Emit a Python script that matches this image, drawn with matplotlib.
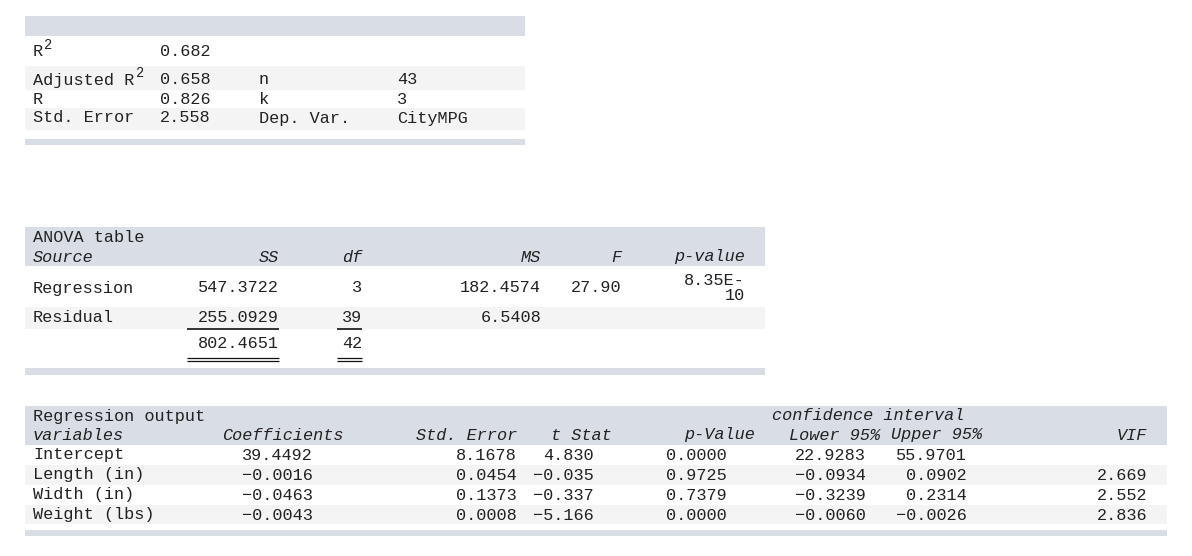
import matplotlib
matplotlib.use("Agg")
import matplotlib.pyplot as plt
from matplotlib.patches import Rectangle

# ---- data ----
stat_labels = ["R", "Adjusted R", "R", "Std. Error"]
stat_sup = ["2", "2", "", ""]
stat_values = ["0.682", "0.658", "0.826", "2.558"]
stat2_labels = ["", "n", "k", "Dep. Var."]
stat2_values = ["", "43", "3", "CityMPG"]

anova_sources = ["Regression", "Residual", ""]
anova_ss = ["547.3722", "255.0929", "802.4651"]
anova_df = ["3", "39", "42"]
anova_ms = ["182.4574", "6.5408", ""]
anova_f = ["27.90", "", ""]
anova_p = ["8.35E-\n10", "", ""]

reg_vars = ["Intercept", "Length (in)", "Width (in)", "Weight (lbs)"]
reg_coef = ["39.4492", "\u22120.0016", "\u22120.0463", "\u22120.0043"]
reg_se = ["8.1678", "0.0454", "0.1373", "0.0008"]
reg_t = ["4.830", "\u22120.035", "\u22120.337", "\u22125.166"]
reg_p = ["0.0000", "0.9725", "0.7379", "0.0000"]
reg_lo = ["22.9283", "\u22120.0934", "\u22120.3239", "\u22120.0060"]
reg_hi = ["55.9701", "0.0902", "0.2314", "\u22120.0026"]
reg_vif = ["", "2.669", "2.552", "2.836"]

W, H = 1192, 556
fig = plt.figure(figsize=(W / 100, H / 100), dpi=100)
ax = fig.add_axes([0, 0, 1, 1])
ax.set_xlim(0, W)
ax.set_ylim(H, 0)
ax.axis("off")

BAND = "#d9dde6"
STRIPE = "#f4f4f4"
TC = "#222222"
FS = 12.2
FAM = "Liberation Mono"
CW = FS * 100 / 72 * 0.6  # char width in px

def rect(x0, x1, y0, y1, c):
    ax.add_patch(Rectangle((x0, y0), x1 - x0, y1 - y0, color=c, lw=0))

def t(x, y, s, ha="left", style="normal", va="center", fs=FS):
    ax.text(x, y, s, ha=ha, va=va, fontsize=fs, family=FAM, color=TC,
            style=style, linespacing=1.0)

def hline(x0, x1, y, lw=1.2):
    ax.plot([x0, x1], [y, y], color="#111111", lw=lw, solid_capstyle="butt")

# ---- table 1 ----
L = 25
rect(L, 525, 16, 36, BAND)
rows1 = [52, 80, 99, 118]
rect(L, 525, 66, 90, STRIPE)
rect(L, 525, 108, 130, STRIPE)
for i, y in enumerate(rows1):
    t(33, y, stat_labels[i])
    if stat_sup[i]:
        t(33 + len(stat_labels[i]) * CW + 1, y - 7, stat_sup[i], fs=FS * 0.8)
    t(160, y, stat_values[i])
    t(259, y, stat2_labels[i])
    t(397, y, stat2_values[i])
rect(L, 525, 139, 145, BAND)

# ---- table 2 ----
R2 = 765
rect(L, R2, 227, 266, BAND)
t(33, 238, "ANOVA table")
hdr_y = 257
t(33, hdr_y, "Source", style="italic")
cols2 = [279, 362, 541, 621, 745]
for x, h in zip(cols2, ["SS", "df", "MS", "F", "p-value"]):
    t(x, hdr_y, h, ha="right", style="italic")
rows2 = [288, 318, 343]
rect(L, R2, 307, 329, STRIPE)
for i, y in enumerate(rows2):
    t(33, y, anova_sources[i])
    t(cols2[0], y, anova_ss[i], ha="right")
    t(cols2[1], y, anova_df[i], ha="right")
    t(cols2[2], y, anova_ms[i], ha="right")
    t(cols2[3], y, anova_f[i], ha="right")
    t(cols2[4], y, anova_p[i], ha="right")
hline(187, 279, 329)
hline(337, 362, 329)
for yy in (357.5, 360.5):
    hline(187, 279, yy, 0.9)
    hline(337, 362, yy, 0.9)
rect(L, R2, 368, 375, BAND)

# ---- table 3 ----
R3 = 1167
rect(L, R3, 406, 445, BAND)
t(33, 416, "Regression output")
t(868, 416, "confidence interval", ha="center", style="italic")
hy = 435
t(33, hy, "variables", style="italic")
hdrs = ["Coefficients", "Std. Error", "t Stat", "p-Value", "Lower 95%", "Upper 95%", "VIF"]
hx = [344, 517, 612, 755, 880, 982, 1147]
for x, h in zip(hx, hdrs):
    t(x, hy, h, ha="right", style="italic")
vx = [313, 517, 594, 727, 866, 967, 1148]
rows3 = [455, 475, 495, 515]
rect(L, R3, 465, 485, STRIPE)
rect(L, R3, 505, 524, STRIPE)
cols = [reg_coef, reg_se, reg_t, reg_p, reg_lo, reg_hi, reg_vif]
for i, y in enumerate(rows3):
    t(33, y, reg_vars[i])
    for x, c in zip(vx, cols):
        t(x, y, c[i], ha="right")
rect(L, R3, 530, 536, BAND)

fig.savefig("out.png", dpi=100)
